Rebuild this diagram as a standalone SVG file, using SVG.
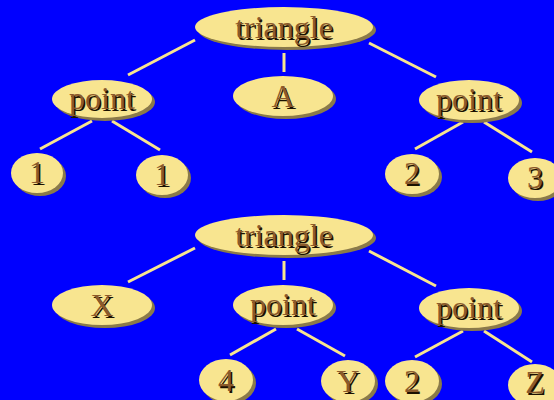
<svg xmlns="http://www.w3.org/2000/svg" width="554" height="400" viewBox="0 0 554 400">
<style>
.n ellipse.s{fill:#8a7a4a}
.n ellipse.f{fill:#f8e590}
.n text{font-family:"Liberation Serif","Times New Roman",serif;font-size:32px;text-anchor:middle}
.n text.sh{fill:#1a1000}
.n text.t{fill:#8b5a2b}
#edges line{stroke:#f8e590;stroke-width:3;stroke-linecap:butt}
</style>
<rect width="554" height="400" fill="#0000ff"/>
<g id="edges">
<line x1="195" y1="40" x2="128" y2="75"/>
<line x1="284" y1="53" x2="284" y2="72"/>
<line x1="369" y1="43" x2="436" y2="77"/>
<line x1="92" y1="121" x2="40" y2="149"/>
<line x1="112" y1="121" x2="160" y2="150"/>
<line x1="463" y1="122" x2="415" y2="149"/>
<line x1="484" y1="122" x2="532" y2="152"/>
<line x1="195" y1="248" x2="128" y2="282"/>
<line x1="284" y1="261" x2="284" y2="280"/>
<line x1="369" y1="251" x2="436" y2="286"/>
<line x1="276" y1="329" x2="230" y2="355"/>
<line x1="297" y1="329" x2="345" y2="356"/>
<line x1="463" y1="331" x2="415" y2="357"/>
<line x1="484" y1="331" x2="532" y2="362"/>
</g>
<g id="n1" class="n"><ellipse class="s" cx="287" cy="30" rx="89" ry="20"/><ellipse class="f" cx="284" cy="27" rx="89" ry="20"/><text class="sh" x="285.5" y="39.5">triangle</text><text class="t" x="284" y="38">triangle</text></g>
<g id="n2" class="n"><ellipse class="s" cx="105" cy="102" rx="50" ry="19"/><ellipse class="f" cx="102" cy="99" rx="50" ry="19"/><text class="sh" x="103.5" y="110.5">point</text><text class="t" x="102" y="109">point</text></g>
<g id="n3" class="n"><ellipse class="s" cx="286" cy="99" rx="50" ry="20"/><ellipse class="f" cx="283" cy="96" rx="50" ry="20"/><text class="sh" x="284.5" y="108.5">A</text><text class="t" x="283" y="107">A</text></g>
<g id="n4" class="n"><ellipse class="s" cx="472" cy="103" rx="50" ry="20"/><ellipse class="f" cx="469" cy="100" rx="50" ry="20"/><text class="sh" x="470.5" y="111.5">point</text><text class="t" x="469" y="110">point</text></g>
<g id="n5" class="n"><ellipse class="s" cx="40" cy="176" rx="26" ry="20"/><ellipse class="f" cx="37" cy="173" rx="26" ry="20"/><text class="sh" x="38.5" y="184.5">1</text><text class="t" x="37" y="183">1</text></g>
<g id="n6" class="n"><ellipse class="s" cx="165" cy="178" rx="26" ry="20"/><ellipse class="f" cx="162" cy="175" rx="26" ry="20"/><text class="sh" x="163.5" y="186.5">1</text><text class="t" x="162" y="185">1</text></g>
<g id="n7" class="n"><ellipse class="s" cx="415" cy="177" rx="27" ry="20"/><ellipse class="f" cx="412" cy="174" rx="27" ry="20"/><text class="sh" x="413.5" y="185.5">2</text><text class="t" x="412" y="184">2</text></g>
<g id="n8" class="n"><ellipse class="s" cx="538" cy="181" rx="27" ry="20"/><ellipse class="f" cx="535" cy="178" rx="27" ry="20"/><text class="sh" x="536.5" y="189.5">3</text><text class="t" x="535" y="188">3</text></g>
<g id="n9" class="n"><ellipse class="s" cx="287" cy="238" rx="89" ry="20"/><ellipse class="f" cx="284" cy="235" rx="89" ry="20"/><text class="sh" x="285.5" y="247.5">triangle</text><text class="t" x="284" y="246">triangle</text></g>
<g id="n10" class="n"><ellipse class="s" cx="105" cy="308" rx="50" ry="20"/><ellipse class="f" cx="102" cy="305" rx="50" ry="20"/><text class="sh" x="103.5" y="317.5">X</text><text class="t" x="102" y="316">X</text></g>
<g id="n11" class="n"><ellipse class="s" cx="286" cy="308" rx="50" ry="20"/><ellipse class="f" cx="283" cy="305" rx="50" ry="20"/><text class="sh" x="284.5" y="316.5">point</text><text class="t" x="283" y="315">point</text></g>
<g id="n12" class="n"><ellipse class="s" cx="472" cy="311" rx="50" ry="20"/><ellipse class="f" cx="469" cy="308" rx="50" ry="20"/><text class="sh" x="470.5" y="319.5">point</text><text class="t" x="469" y="318">point</text></g>
<g id="n13" class="n"><ellipse class="s" cx="229" cy="383" rx="27" ry="21"/><ellipse class="f" cx="226" cy="380" rx="27" ry="21"/><text class="sh" x="227.5" y="392.5">4</text><text class="t" x="226" y="391">4</text></g>
<g id="n14" class="n"><ellipse class="s" cx="351" cy="384" rx="27" ry="21"/><ellipse class="f" cx="348" cy="381" rx="27" ry="21"/><text class="sh" x="349.5" y="393.5">Y</text><text class="t" x="348" y="392">Y</text></g>
<g id="n15" class="n"><ellipse class="s" cx="415" cy="384" rx="27" ry="21"/><ellipse class="f" cx="412" cy="381" rx="27" ry="21"/><text class="sh" x="413.5" y="393.5">2</text><text class="t" x="412" y="392">2</text></g>
<g id="n16" class="n"><ellipse class="s" cx="538" cy="388" rx="27" ry="21"/><ellipse class="f" cx="535" cy="385" rx="27" ry="21"/><text class="sh" x="536.5" y="394.5">Z</text><text class="t" x="535" y="393">Z</text></g>
</svg>
